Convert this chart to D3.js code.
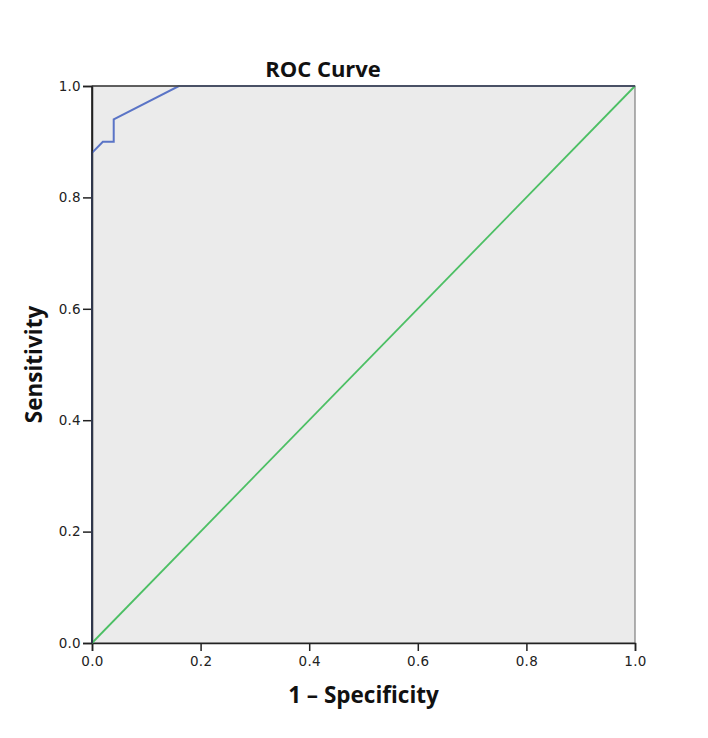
<!DOCTYPE html>
<html><head><meta charset="utf-8">
<script src="https://cdn.jsdelivr.net/npm/d3@7"></script>
<style>body{margin:0;background:#fff}</style>
</head><body>
<script>
const rocFpr = [0, 0, 0.02, 0.04, 0.04, 0.16, 1.0];
const rocTpr = [0, 0.88, 0.90, 0.90, 0.94, 1.0, 1.0];
const refFpr = [0, 1];
const refTpr = [0, 1];
const ticks = [0, 0.2, 0.4, 0.6, 0.8, 1.0];

const W = 708, H = 738;
const m = {left: 92, right: 73, top: 86, bottom: 95};
const svg = d3.select("body").append("svg").attr("width", W).attr("height", H);
const x = d3.scaleLinear().domain([0, 1]).range([m.left, W - m.right]);
const y = d3.scaleLinear().domain([0, 1]).range([H - m.bottom, m.top]);

svg.append("rect").attr("x", x(0)).attr("y", y(1)).attr("width", x(1) - x(0)).attr("height", y(0) - y(1))
  .attr("fill", "#ebebeb").attr("stroke", "#666").attr("stroke-width", 1);

const xa = svg.append("g").attr("transform", `translate(0,${y(0)})`)
  .call(d3.axisBottom(x).tickValues(ticks).tickFormat(d3.format(".1f")).tickSizeOuter(0).tickSize(8).tickPadding(5));
const ya = svg.append("g").attr("transform", `translate(${x(0)},0)`)
  .call(d3.axisLeft(y).tickValues(ticks).tickFormat(d3.format(".1f")).tickSizeOuter(0).tickSize(9).tickPadding(2));
[xa, ya].forEach(a => {
  a.select(".domain").attr("stroke", "#222").attr("stroke-width", 1.5);
  a.selectAll(".tick line").attr("stroke", "#222").attr("stroke-width", 1.5);
  a.selectAll("text").attr("font-family", "'DejaVu Sans', sans-serif").attr("font-size", 13.5)
    .attr("letter-spacing", 0.3).attr("fill", "#222");
});

const line = d3.line().x(d => x(d[0])).y(d => y(d[1]));
svg.append("path").datum(refFpr.map((v, i) => [v, refTpr[i]])).attr("d", line)
  .attr("fill", "none").attr("stroke", "#4cbf64").attr("stroke-width", 1.8);
svg.append("path").datum(rocFpr.map((v, i) => [v, rocTpr[i]])).attr("d", line)
  .attr("fill", "none").attr("stroke", "#5a74c6").attr("stroke-width", 2);

svg.append("line").attr("x1", x(0)).attr("x2", x(1)).attr("y1", y(1)).attr("y2", y(1)).attr("stroke", "#444").attr("stroke-width", 1.3);
svg.append("line").attr("x1", x(0)).attr("x2", x(0)).attr("y1", y(1)).attr("y2", y(0)).attr("stroke", "#222").attr("stroke-width", 1.5);

const bold = "'Open Sans', sans-serif";
svg.append("text").attr("x", 323).attr("y", 77).attr("text-anchor", "middle")
  .attr("font-family", bold).attr("font-weight", "bold").attr("font-size", 22).attr("fill", "#111").text("ROC Curve");
svg.append("text").attr("x", (x(0) + x(1)) / 2).attr("y", 703).attr("text-anchor", "middle")
  .attr("font-family", bold).attr("font-weight", "bold").attr("font-size", 22.5).attr("fill", "#111").text("1 – Specificity");
svg.append("text").attr("transform", `translate(42,${(y(0) + y(1)) / 2}) rotate(-90)`).attr("text-anchor", "middle")
  .attr("font-family", bold).attr("font-weight", "bold").attr("font-size", 22.5).attr("fill", "#111").text("Sensitivity");
</script>
</body></html>
